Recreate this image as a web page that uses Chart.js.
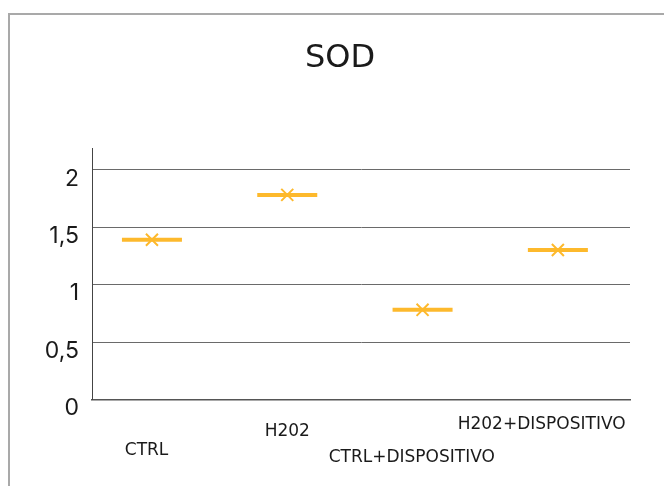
<!DOCTYPE html>
<html><head><meta charset="utf-8">
<script src="https://cdn.jsdelivr.net/npm/chart.js@4"></script>
<style>
html,body{margin:0;padding:0;width:664px;height:486px;overflow:hidden;background:#fff}
#frame{position:absolute;left:8px;top:13px;width:720px;height:540px;border:2px solid #a9a9a9;box-sizing:border-box}
#wrap{position:absolute;left:0;top:0;width:664px;height:486px}
</style></head>
<body>
<div id="frame"></div>
<div id="wrap"><canvas id="c" width="664" height="486"></canvas></div>
<script>
const categories = ['CTRL', 'H202', 'CTRL+DISPOSITIVO', 'H202+DISPOSITIVO'];
const sodValues = [1.39, 1.78, 0.78, 1.30];
const yTicks = [0, 0.5, 1, 1.5, 2];

// layout-only helpers for the staggered category labels
const labelRows = [4, 1, 5, 0];
const labelShift = [2, 0, 4, 6];

const color = '#FDB92C';
const points = categories.map((c, i) => ({x: i, y: sodValues[i]}));
const noPad = s => { s.paddingLeft = 0; s.paddingRight = 0; s.paddingTop = 0; s.paddingBottom = 0; };

new Chart(document.getElementById('c'), {
  type: 'scatter',
  data: {
    datasets: [
      {data: points, pointStyle: 'line', pointRadius: 30, pointHoverRadius: 30, pointBorderWidth: 4, borderColor: color, backgroundColor: color, showLine: false},
      {data: points, pointStyle: 'crossRot', pointRadius: 8.5, pointHoverRadius: 8.5, pointBorderWidth: 2, borderColor: color, backgroundColor: color, showLine: false}
    ]
  },
  options: {
    responsive: false,
    animation: false,
    devicePixelRatio: 1,
    layout: {padding: {left: 16, right: 0, top: 0, bottom: 0}},
    plugins: {
      legend: {display: false},
      tooltip: {enabled: false},
      title: {display: true, text: 'SOD', color: '#1a1a1a', font: {family: 'DejaVu Sans', size: 32, weight: 'normal', lineHeight: 1.2}, padding: {top: 39, bottom: 71.5}}
    },
    scales: {
      x: {
        type: 'linear', min: -0.443, max: 3.533,
        afterFit: s => { s.height = 86.5; noPad(s); },
        afterBuildTicks: s => { s.ticks = categories.map((c, i) => ({value: i})); },
        grid: {display: false, drawTicks: false},
        border: {display: true, color: '#555', width: 1.5},
        ticks: {
          padding: 22, maxRotation: 0, autoSkip: false, color: '#1a1a1a',
          font: {family: 'DejaVu Sans', size: 17, lineHeight: '6.5px'},
          callback: v => {
            const i = Math.round(v);
            const lines = [];
            for (let k = 0; k < labelRows[i]; k++) lines.push('');
            lines.push(categories[i] + ' '.repeat(labelShift[i]));
            return lines;
          }
        }
      },
      y: {
        min: 0, max: 2.18,
        afterFit: s => { s.width = 76; noPad(s); },
        afterBuildTicks: s => { s.ticks = yTicks.map(v => ({value: v})).concat([{value: 2.18}]); },
        grid: {drawTicks: false, color: c => (c.tick && c.tick.value > 2.01) ? 'rgba(0,0,0,0)' : '#6a6a6a', lineWidth: 1},
        border: {display: true, color: '#444', width: 1},
        ticks: {
          padding: 13, labelOffset: 9, color: '#1a1a1a',
          font: {family: 'Inter', size: 23},
          callback: v => v > 2.01 ? '' : String(v).replace('.', ',')
        }
      },
      yRight: {
        position: 'right', min: 0, max: 2.18,
        afterFit: s => { s.width = 34; noPad(s); },
        grid: {display: false, drawTicks: false},
        border: {display: false},
        ticks: {display: false}
      }
    }
  }
});
</script>
</body></html>
